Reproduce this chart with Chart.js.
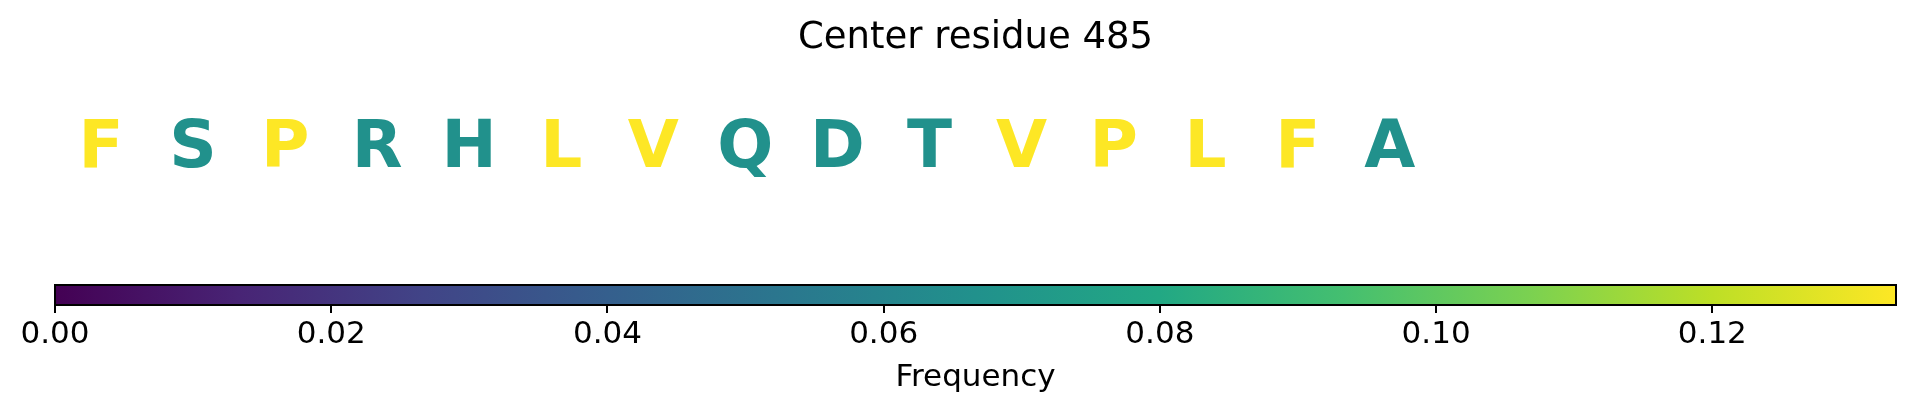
<!DOCTYPE html>
<html>
<head>
<meta charset="utf-8">
<script src="https://cdn.jsdelivr.net/npm/chart.js@4.4.1/dist/chart.umd.min.js"></script>
<style>
  html, body { margin: 0; padding: 0; background: #fff; }
  #wrap { width: 1917px; height: 416px; }
</style>
</head>
<body>
<div id="wrap"><canvas id="c" width="1917" height="416"></canvas></div>
<script>
// ---- data ----
const residues = ['F','S','P','R','H','L','V','Q','D','T','V','P','L','F','A'];
const frequencies = [0.1333, 0.0667, 0.1333, 0.0667, 0.0667, 0.1333, 0.1333, 0.0667, 0.0667, 0.0667, 0.1333, 0.1333, 0.1333, 0.1333, 0.0667];
const windowSize = 20;
const colorbarMin = 0;
const colorbarMax = 0.1333;
const colorbarTicks = [0, 0.02, 0.04, 0.06, 0.08, 0.10, 0.12];
const colorbarTickLabels = ['0.00', '0.02', '0.04', '0.06', '0.08', '0.10', '0.12'];
const titleText = 'Center residue 485';
const colorbarLabel = 'Frequency';
const viridisStops = ['#440154','#482475','#414487','#355f8d','#2a788e','#21918c','#22a884','#44bf70','#7ad151','#bddf26','#fde725'];

// ---- helpers ----
function hexToRgb(h) {
  return [parseInt(h.slice(1,3),16), parseInt(h.slice(3,5),16), parseInt(h.slice(5,7),16)];
}
function viridis(t) {
  t = Math.max(0, Math.min(1, t));
  const n = viridisStops.length - 1;
  const i = Math.min(n - 1, Math.floor(t * n));
  const f = t * n - i;
  const a = hexToRgb(viridisStops[i]), b = hexToRgb(viridisStops[i + 1]);
  const c = a.map((v, k) => Math.round(v + (b[k] - v) * f));
  return 'rgb(' + c.join(',') + ')';
}

const FONT = "'DejaVu Sans', 'Liberation Sans', sans-serif";
const CB_HEIGHT = 20;

const letterPoints = residues.map((r, i) => ({ x: i + 0.5, y: 0.59 }));

const lettersPlugin = {
  id: 'letters',
  afterDatasetsDraw(chart) {
    const ctx = chart.ctx;
    const meta = chart.getDatasetMeta(0);
    ctx.save();
    ctx.font = 'bold 66px ' + FONT;
    ctx.textAlign = 'center';
    ctx.textBaseline = 'alphabetic';
    meta.data.forEach((el, i) => {
      ctx.fillStyle = viridis((frequencies[i] - colorbarMin) / (colorbarMax - colorbarMin));
      ctx.fillText(residues[i], el.x, el.y);
    });
    ctx.restore();
  }
};

const colorbarPlugin = {
  id: 'colorbar',
  afterDatasetsDraw(chart) {
    const ctx = chart.ctx;
    const s = chart.scales.cb;
    const x0 = s.getPixelForValue(colorbarMin);
    const x1 = s.getPixelForValue(colorbarMax);
    const yb = chart.chartArea.bottom;
    const yt = yb - CB_HEIGHT;
    const g = ctx.createLinearGradient(x0, 0, x1, 0);
    viridisStops.forEach((c, i) => g.addColorStop(i / (viridisStops.length - 1), c));
    ctx.save();
    ctx.fillStyle = g;
    ctx.fillRect(x0, yt, x1 - x0, CB_HEIGHT);
    ctx.strokeStyle = '#000';
    ctx.lineWidth = 2;
    ctx.strokeRect(x0, yt, x1 - x0, CB_HEIGHT);
    ctx.restore();
  }
};

new Chart(document.getElementById('c'), {
  type: 'scatter',
  data: {
    datasets: [{
      data: letterPoints,
      pointRadius: 0,
      pointHoverRadius: 0,
      xAxisID: 'x',
      yAxisID: 'y'
    }]
  },
  options: {
    responsive: false,
    animation: false,
    events: [],
    layout: { padding: { left: 55, right: 21, top: 0, bottom: 0 } },
    plugins: {
      legend: { display: false },
      tooltip: { enabled: false },
      title: {
        display: true,
        text: titleText,
        color: '#000',
        font: { family: FONT, size: 37, weight: 'normal' },
        padding: { top: 16, bottom: 10 }
      }
    },
    scales: {
      x: { type: 'linear', min: 0, max: windowSize, display: false },
      y: { type: 'linear', min: 0, max: 1, display: false },
      cb: {
        type: 'linear',
        axis: 'x',
        position: 'bottom',
        min: colorbarMin,
        max: colorbarMax,
        afterBuildTicks(scale) {
          scale.ticks = colorbarTicks.map(v => ({ value: v }));
        },
        afterFit(scale) { scale.height = 111; },
        ticks: {
          autoSkip: false,
          maxRotation: 0,
          color: '#000',
          font: { family: FONT, size: 31 },
          padding: 3,
          callback(v) {
            const i = colorbarTicks.findIndex(t => Math.abs(t - v) < 1e-9);
            return i >= 0 ? colorbarTickLabels[i] : '';
          }
        },
        grid: {
          display: true,
          drawOnChartArea: false,
          drawTicks: true,
          tickLength: 8,
          color: '#000',
          lineWidth: 2
        },
        border: { display: false },
        title: {
          display: true,
          text: colorbarLabel,
          color: '#000',
          font: { family: FONT, size: 31 },
          padding: { top: 0, bottom: 19 }
        }
      }
    }
  },
  plugins: [lettersPlugin, colorbarPlugin]
});
</script>
</body>
</html>
